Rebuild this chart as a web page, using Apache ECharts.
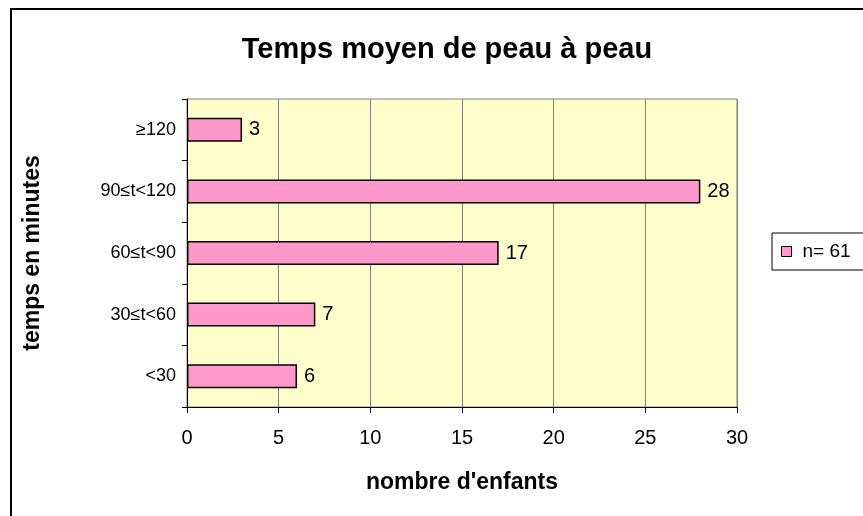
<!DOCTYPE html>
<html>
<head>
<meta charset="utf-8">
<script src="https://cdn.jsdelivr.net/npm/echarts@6/dist/echarts.min.js"></script>
<style>
    html, body { margin: 0; padding: 0; background: #fff; }
    #chart { width: 863px; height: 516px; }
</style>
</head>
<body>
<div id="chart"></div>
<script>
// catégories du bas vers le haut
const categories = ['<30', '30≤t<60', '60≤t<90', '90≤t<120', '≥120'];
const counts = [6, 7, 17, 28, 3];
const seriesName = 'n= 61';
const xTicks = [0, 5, 10, 15, 20, 25, 30];

const font = 'Liberation Sans, Arial, sans-serif';

const myChart = echarts.init(document.getElementById('chart'));

const option = {
    backgroundColor: '#fff',
    animation: false,
    title: {
        text: 'Temps moyen de peau à peau',
        left: 442,
        top: 30,
        textAlign: 'center',
        textStyle: { fontFamily: font, fontSize: 29, fontWeight: 'bold', color: '#000' }
    },
    legend: {
        data: [seriesName],
        left: 772,
        top: 233,
        padding: [9, 30, 9, 9],
        borderColor: '#000',
        borderWidth: 1,
        icon: 'rect',
        itemWidth: 10,
        itemHeight: 10,
        itemStyle: { borderWidth: 1 },
        textStyle: { fontFamily: font, fontSize: 19, color: '#000', padding: [0, 0, 0, 6] }
    },
    grid: {
        left: 187,
        right: 126,
        top: 99,
        bottom: 109,
        show: true,
        backgroundColor: '#FFFFCC',
        borderColor: '#808080',
        borderWidth: 1
    },
    xAxis: {
        type: 'value',
        min: 0,
        max: 30,
        interval: 5,
        name: "nombre d'enfants",
        nameLocation: 'middle',
        nameGap: 64,
        nameTextStyle: { fontFamily: font, fontSize: 23, fontWeight: 'bold', color: '#000' },
        axisLine: { show: true, lineStyle: { color: '#000' } },
        axisTick: { show: true, length: 6, lineStyle: { color: '#000' } },
        axisLabel: {
            margin: 21,
            fontFamily: font, fontSize: 20, color: '#000',
            formatter: (v) => xTicks.includes(v) ? String(v) : ''
        },
        splitLine: { show: true, lineStyle: { color: '#808080', width: 1 } }
    },
    yAxis: {
        type: 'category',
        data: categories,
        name: 'temps en minutes',
        nameLocation: 'middle',
        nameGap: 143,
        nameRotate: 90,
        nameTextStyle: { fontFamily: font, fontSize: 23, fontWeight: 'bold', color: '#000' },
        axisLine: { show: true, lineStyle: { color: '#000' } },
        axisTick: { show: true, length: 5, lineStyle: { color: '#000' } },
        axisLabel: { margin: 11, fontFamily: font, fontSize: 18, color: '#000' }
    },
    series: [
        {
            name: seriesName,
            type: 'bar',
            data: counts,
            barWidth: 24,
            itemStyle: { color: '#FF99CC', borderColor: '#000', borderWidth: 1.5 },
            label: {
                show: true,
                position: 'right',
                distance: 7,
                fontFamily: font,
                fontSize: 20,
                color: '#000'
            }
        }
    ],
    graphic: [
        {
            type: 'rect',
            shape: { x: 11, y: 9, width: 900, height: 600 },
            style: { fill: 'none', stroke: '#000', lineWidth: 2 },
            z: 100
        }
    ]
};

myChart.setOption(option);
window.addEventListener('resize', () => myChart.resize());
</script>
</body>
</html>
